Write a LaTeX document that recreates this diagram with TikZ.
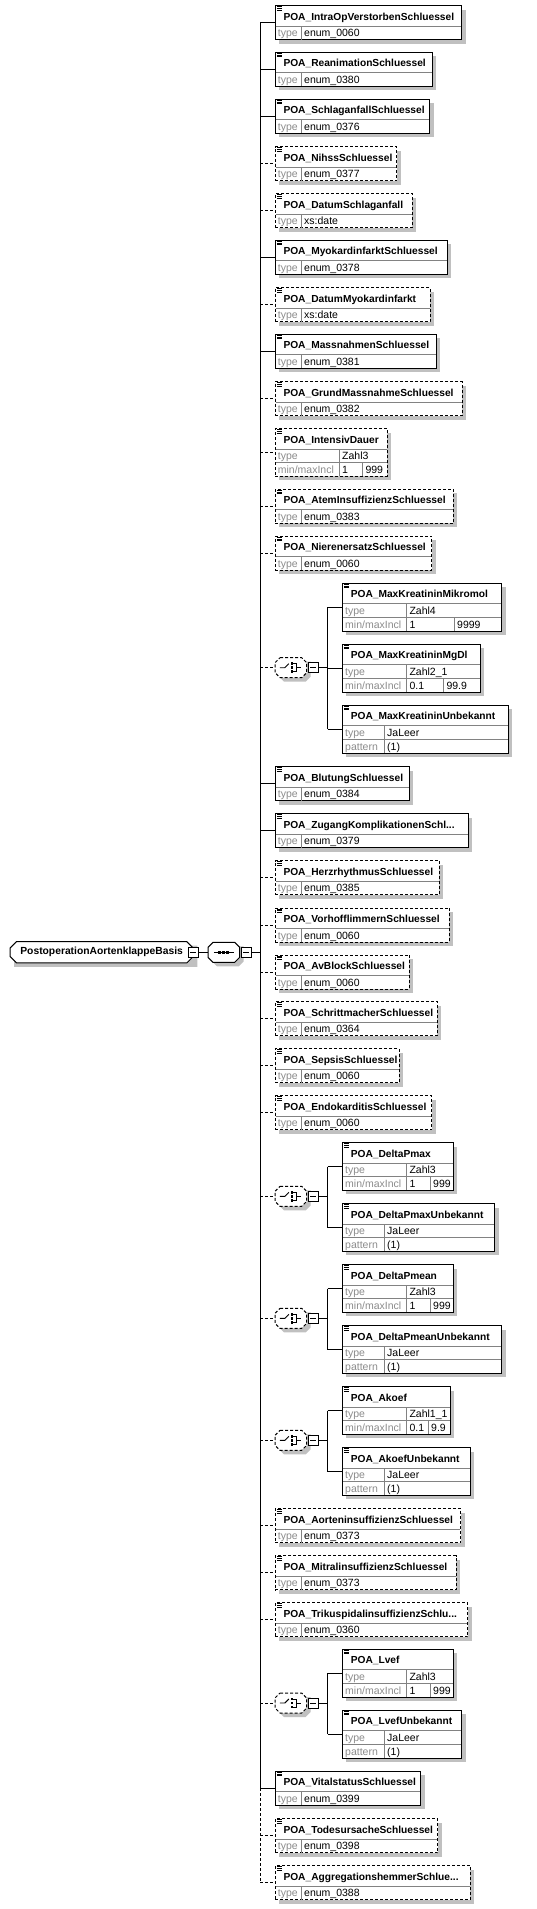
\documentclass[tikz,border=0pt]{standalone}
\usepackage{fontspec}
\setmainfont{Liberation Sans}
\usetikzlibrary{shapes.misc}

\definecolor{shadowgray}{RGB}{192,192,192}
\definecolor{keygray}{RGB}{140,140,140}
\definecolor{divgray}{RGB}{130,130,130}

\tikzset{
  elnode/.style={draw=black,fill=white,line width=1pt,inner sep=0pt,outer sep=0pt},
  optbox/.style={dash pattern=on 3pt off 2pt},
  reqbox/.style={solid},
  divline/.style={draw=divgray,line width=0.8pt},
  iconline/.style={line width=0.6pt},
  hdrtext/.style={inner sep=0pt,font=\fontsize{10.2}{12}\bfseries\selectfont},
  keytext/.style={inner sep=0pt,text=keygray,font=\fontsize{10.5}{12}\selectfont},
  valtext/.style={inner sep=0pt,font=\fontsize{10.5}{12}\selectfont},
  compnode/.style={rectangle,draw=none,minimum width=31.7pt,minimum height=20pt,inner sep=0pt,outer sep=0pt},
  rootnode/.style={chamfered rectangle,chamfered rectangle xsep=3pt,draw=black,fill=white,line width=1pt,minimum width=183.3pt,minimum height=21.3pt,inner sep=0pt,outer sep=0pt,font=\fontsize{10.3}{12}\bfseries\selectfont},
  rootshadow/.style={chamfered rectangle,chamfered rectangle xsep=3pt,draw=none,fill=shadowgray,minimum width=183.3pt,minimum height=21.3pt,inner sep=0pt,outer sep=0pt},
  minusbox/.style={draw=black,fill=white,line width=0.8pt,minimum size=10pt,inner sep=0pt,outer sep=0pt,
    path picture={\draw[line width=0.8pt] ([xshift=2pt]path picture bounding box.west) -- ([xshift=-2pt]path picture bounding box.east);}},
  conn/.style={line width=1pt},
  optconn/.style={line width=1pt,dash pattern=on 3pt off 2pt},
}

% element box: name, x, top, width, height, border
\newcommand{\elembox}[6]{%
  \def\elx{#2}\def\ely{#3}\def\elw{#4}%
  \fill[shadowgray] (#2+4,#3+4) rectangle (#2+#4+4,#3+#5+4);
  \node[elnode,#6,minimum width=#4,minimum height=#5,anchor=north west] (#1) at (#2,#3) {};
  \foreach \iy in {1,2.6,4.2} \draw[iconline] (#2+1.8,#3+\iy) -- ++(5,0);
}
% header text and line
\newcommand{\elemhead}[1]{%
  \node[hdrtext,anchor=base west] at (\elx+8.3,\ely+14.5) {#1};
  \draw[divline] (\elx+0.5,\ely+20.5) -- (\elx+\elw-0.5,\ely+20.5);
}
% one row: top offset, key, column, value
\newcommand{\elemrow}[4]{%
  \draw[divline] (\elx+0.5,\ely+#1) -- (\elx+\elw-0.5,\ely+#1);
  \draw[divline] (\elx+#3,\ely+#1) -- (\elx+#3,\ely+#1+13.6);
  \node[keytext,anchor=base west] at (\elx+2.7,\ely+#1+10.6) {#2};
  \node[valtext,anchor=base west] at (\elx+#3+3,\ely+#1+10.6) {#4};
}
% min/max row: col1, col2, min, max
\newcommand{\elemrange}[4]{%
  \draw[divline] (\elx+0.5,\ely+34.1) -- (\elx+\elw-0.5,\ely+34.1);
  \draw[divline] (\elx+#1,\ely+34.1) -- (\elx+#1,\ely+47.7);
  \draw[divline] (\elx+#2,\ely+34.1) -- (\elx+#2,\ely+47.7);
  \node[keytext,anchor=base west] at (\elx+2.7,\ely+44.7) {min/maxIncl};
  \node[valtext,anchor=base west] at (\elx+#1+3,\ely+44.7) {#3};
  \node[valtext,anchor=base west] at (\elx+#2+3,\ely+44.7) {#4};
}
\newcommand{\simpleelem}[6]{%
  \elembox{#1}{275}{#2}{#3}{34.1}{#4}\elemhead{#5}\elemrow{20.5}{type}{26}{#6}}
\newcommand{\rangeelem}[8]{%
  \elembox{#1}{342.3}{#2}{#3}{47.7}{reqbox}\elemhead{#4}\elemrow{20.5}{type}{64}{#5}\elemrange{64}{#6}{#7}{#8}}
\newcommand{\flagelem}[4]{%
  \elembox{#1}{342.3}{#2}{#3}{47.7}{reqbox}\elemhead{#4}\elemrow{20.5}{type}{41.7}{JaLeer}\elemrow{34.1}{pattern}{41.7}{(1)}}
% compositor outline round a node: name, border
\newcommand{\compshape}[2]{%
  \begin{scope}[shift={(#1.center)}]
    \fill[shadowgray] (-6.85,-6) -- (19.85,-6) -- (19.85,-1) -- (19.85,9) -- (14.85,14) -- (-6.85,14) -- (-11.85,9) -- (-11.85,-1) -- cycle;
    \draw[line width=1pt,fill=white,#2] (-10.85,-10) -- (10.85,-10) -- (15.85,-5) -- (15.85,5) -- (10.85,10) -- (-10.85,10) -- (-15.85,5) -- (-15.85,-5) -- cycle;
  \end{scope}
}
% choice compositor: name, minus name, y
\newcommand{\choicenode}[3]{%
  \node[compnode,anchor=west] (#1) at (275,#3) {};
  \compshape{#1}{optbox}
  \begin{scope}[shift={(#1.center)}]
    \draw[line width=0.9pt] (-11,0) -- (-6,0) -- (-2,-4);
    \foreach \iy in {-4,0,4} \fill (0,\iy-1.3) rectangle (2.6,\iy+1.3);
    \draw[line width=0.8pt] (2.6,-4) -- (5.5,-4) -- (5.5,4) -- (2.6,4);
    \draw[line width=0.8pt] (5.5,0) -- (10,0);
  \end{scope}
  \node[minusbox,anchor=west] (#2) at (308.3,#3) {};
}

\begin{document}
\begin{tikzpicture}[x=1pt,y=1pt,yscale=-1,xscale=1]
\useasboundingbox (0,0) rectangle (537,1909);
\coordinate (trunk) at (260,0);
\coordinate (brk) at (327.7,0);

% root and sequence
\node[rootshadow,anchor=west] at (14,956.3) {};
\node[rootnode,anchor=west] (root) at (10,952.3) {PostoperationAortenklappeBasis};
\node[minusbox] (rm) at (193.35,952.3) {};
\node[compnode,anchor=west] (seq) at (208,952.3) {};
\compshape{seq}{solid}
\begin{scope}[shift={(seq.center)}]
  \draw[line width=0.9pt] (-10,0) -- (10,0);
  \foreach \ix in {-4,0,4} \fill (\ix-1.4,-1.4) rectangle (\ix+1.4,1.4);
\end{scope}
\node[minusbox,anchor=west] (sm) at (241,952.3) {};
\draw[conn] (rm.east) -- (seq.west);
\draw[conn] (sm.east) -- (trunk |- sm.east);

% elements
\simpleelem{e01}{5.7}{186.7}{reqbox}{POA\_IntraOpVerstorbenSchluessel}{enum\_0060}
\simpleelem{e02}{52.3}{157.3}{reqbox}{POA\_ReanimationSchluessel}{enum\_0380}
\simpleelem{e03}{99.3}{154.7}{reqbox}{POA\_SchlaganfallSchluessel}{enum\_0376}
\simpleelem{e04}{146.7}{121.7}{optbox}{POA\_NihssSchluessel}{enum\_0377}
\simpleelem{e05}{193.7}{137.3}{optbox}{POA\_DatumSchlaganfall}{xs:date}
\simpleelem{e06}{240.3}{172}{reqbox}{POA\_MyokardinfarktSchluessel}{enum\_0378}
\simpleelem{e07}{287.7}{155}{optbox}{POA\_DatumMyokardinfarkt}{xs:date}
\simpleelem{e08}{334.3}{161.3}{reqbox}{POA\_MassnahmenSchluessel}{enum\_0381}
\simpleelem{e09}{381.7}{187}{optbox}{POA\_GrundMassnahmeSchluessel}{enum\_0382}
\elembox{e10}{275}{428.7}{112}{47.7}{optbox}\elemhead{POA\_IntensivDauer}\elemrow{20.5}{type}{64}{Zahl3}\elemrange{64}{87.3}{1}{999}
\simpleelem{e11}{489.3}{178.3}{optbox}{POA\_AtemInsuffizienzSchluessel}{enum\_0383}
\simpleelem{e12}{536.3}{156.7}{optbox}{POA\_NierenersatzSchluessel}{enum\_0060}

\choicenode{chA}{mA}{667.7}
\rangeelem{cA1}{583.3}{159.4}{POA\_MaxKreatininMikromol}{Zahl4}{111.7}{1}{9999}
\rangeelem{cA2}{644.3}{137.7}{POA\_MaxKreatininMgDl}{Zahl2\_1}{101}{0.1}{99.9}
\flagelem{cA3}{705.3}{166}{POA\_MaxKreatininUnbekannt}

\simpleelem{e13}{766.7}{134}{reqbox}{POA\_BlutungSchluessel}{enum\_0384}
\simpleelem{e14}{813.7}{193.3}{reqbox}{POA\_ZugangKomplikationenSchl...}{enum\_0379}
\simpleelem{e15}{860.7}{164.3}{optbox}{POA\_HerzrhythmusSchluessel}{enum\_0385}
\simpleelem{e16}{908}{174.3}{optbox}{POA\_VorhofflimmernSchluessel}{enum\_0060}
\simpleelem{e17}{955}{134.3}{optbox}{POA\_AvBlockSchluessel}{enum\_0060}
\simpleelem{e18}{1001.7}{162.3}{optbox}{POA\_SchrittmacherSchluessel}{enum\_0364}
\simpleelem{e19}{1048.7}{124}{optbox}{POA\_SepsisSchluessel}{enum\_0060}
\simpleelem{e20}{1095.7}{156.7}{optbox}{POA\_EndokarditisSchluessel}{enum\_0060}

\choicenode{chB}{mB}{1196.3}
\rangeelem{cB1}{1142.7}{111}{POA\_DeltaPmax}{Zahl3}{87.7}{1}{999}
\flagelem{cB2}{1203.7}{152.4}{POA\_DeltaPmaxUnbekannt}

\choicenode{chC}{mC}{1318.3}
\rangeelem{cC1}{1264.7}{111}{POA\_DeltaPmean}{Zahl3}{87.7}{1}{999}
\flagelem{cC2}{1325.7}{159.4}{POA\_DeltaPmeanUnbekannt}

\choicenode{chD}{mD}{1440.3}
\rangeelem{cD1}{1386.7}{107.7}{POA\_Akoef}{Zahl1\_1}{85.7}{0.1}{9.9}
\flagelem{cD2}{1447.7}{128}{POA\_AkoefUnbekannt}

\simpleelem{e21}{1508.7}{185.7}{optbox}{POA\_AorteninsuffizienzSchluessel}{enum\_0373}
\simpleelem{e22}{1555.7}{181}{optbox}{POA\_MitralinsuffizienzSchluessel}{enum\_0373}
\simpleelem{e23}{1602.7}{192.7}{optbox}{POA\_TrikuspidalinsuffizienzSchlu...}{enum\_0360}

\choicenode{chE}{mE}{1703}
\rangeelem{cE1}{1649.3}{111}{POA\_Lvef}{Zahl3}{87.7}{1}{999}
\flagelem{cE2}{1710.3}{119.4}{POA\_LvefUnbekannt}

\simpleelem{e24}{1771.3}{145.7}{reqbox}{POA\_VitalstatusSchluessel}{enum\_0399}
\simpleelem{e25}{1818.7}{162.7}{optbox}{POA\_TodesursacheSchluessel}{enum\_0398}
\simpleelem{e26}{1865.7}{195.3}{optbox}{POA\_AggregationshemmerSchlue...}{enum\_0388}

% trunk and connectors
\draw[conn] (trunk |- e01.west) -- (trunk |- e24.west);
\draw[optconn] (trunk |- e24.west) -- (trunk |- e26.west);
\foreach \n in {e01,e02,e03,e06,e08,e13,e14,e24}
  \draw[conn] (trunk |- \n.west) -- (\n.west);
\foreach \n in {e04,e05,e07,e09,e10,e11,e12,e15,e16,e17,e18,e19,e20,e21,e22,e23,e25,e26,chA,chB,chC,chD,chE}
  \draw[optconn] (trunk |- \n.west) -- (\n.west);
\foreach \m/\f/\l in {mA/cA1/cA3,mB/cB1/cB2,mC/cC1/cC2,mD/cD1/cD2,mE/cE1/cE2} {
  \draw[conn] (\m.east) -- (brk |- \m.east);
  \draw[conn] (brk |- \f.west) -- (brk |- \l.west);
}
\foreach \n in {cA1,cA2,cA3,cB1,cB2,cC1,cC2,cD1,cD2,cE1,cE2}
  \draw[conn] (brk |- \n.west) -- (\n.west);

\end{tikzpicture}
\end{document}
